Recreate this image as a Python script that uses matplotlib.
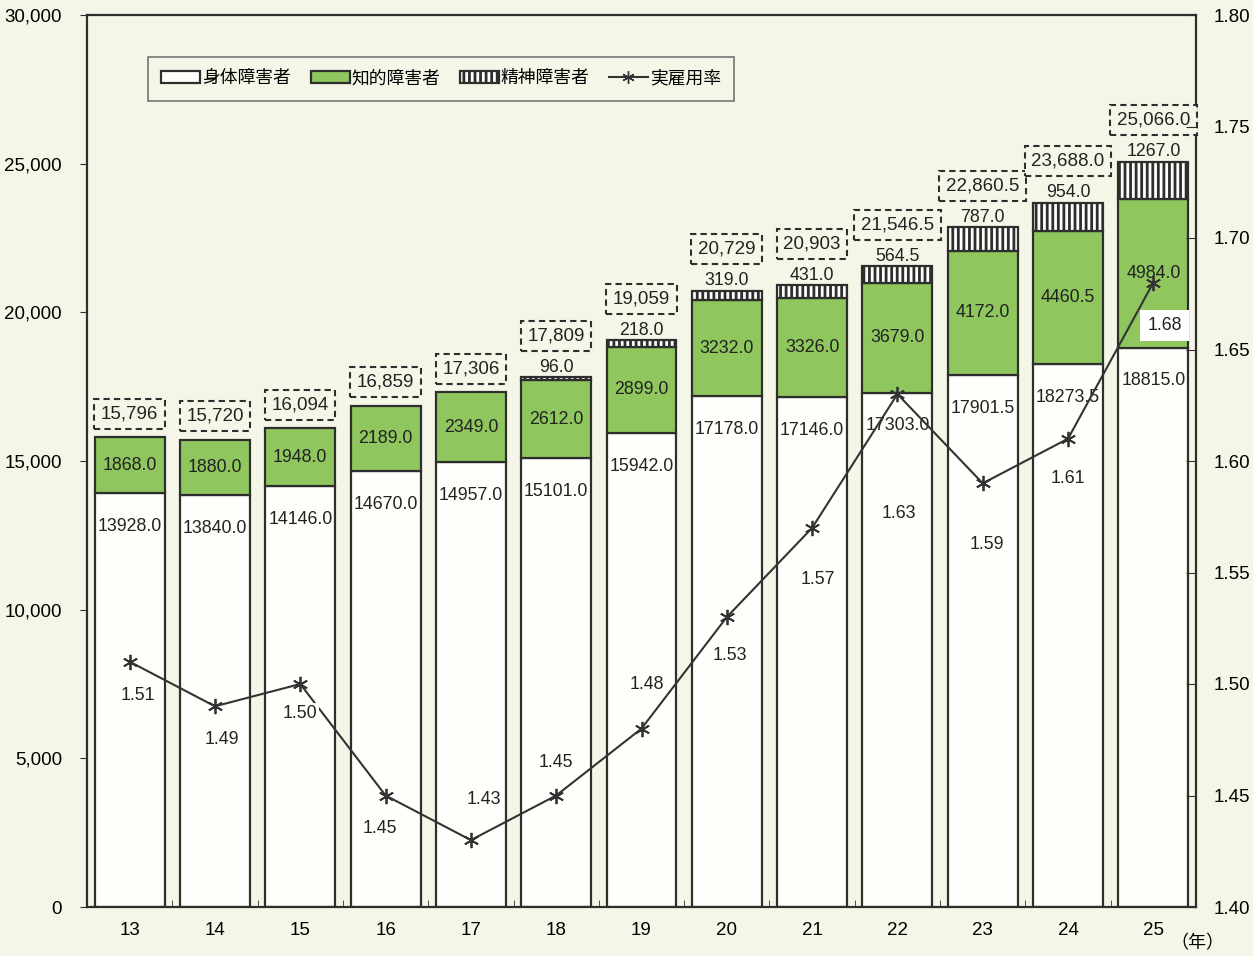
import numpy as np
import matplotlib
matplotlib.use("Agg")
import matplotlib.pyplot as plt
from matplotlib.patches import Patch
from matplotlib.lines import Line2D

plt.rcParams['font.family'] = ['Liberation Sans', 'Noto Sans CJK JP', 'DejaVu Sans']
plt.rcParams['hatch.linewidth'] = 2.0

years = ['13', '14', '15', '16', '17', '18', '19', '20', '21', '22', '23', '24', '25']
physical = [13928.0, 13840.0, 14146.0, 14670.0, 14957.0, 15101.0, 15942.0,
            17178.0, 17146.0, 17303.0, 17901.5, 18273.5, 18815.0]
intellectual = [1868.0, 1880.0, 1948.0, 2189.0, 2349.0, 2612.0, 2899.0,
                3232.0, 3326.0, 3679.0, 4172.0, 4460.5, 4984.0]
mental = [0, 0, 0, 0, 0, 96.0, 218.0, 319.0, 431.0, 564.5, 787.0, 954.0, 1267.0]
rate = [1.51, 1.49, 1.50, 1.45, 1.43, 1.45, 1.48, 1.53, 1.57, 1.63, 1.59, 1.61, 1.68]

# label offsets (points) for rate labels
rate_off = [(6, -24), (5, -24), (0, -21), (-4, -24), (9, 29), (0, 24), (4, 32),
            (2, -28), (4, -37), (1, -86), (3, -44), (0, -29), (8, -31)]

bg = '#f6f6e8'
white = '#fefefa'
green = '#8fc65e'
edge = '#2e2e2e'

fig = plt.figure(figsize=(12.53, 9.56), dpi=100, facecolor=bg)
ax = fig.add_axes([87 / 1253, 1 - 907 / 956, 1109 / 1253, 892 / 956])
ax.set_facecolor(bg)

x = np.arange(len(years))
phys = np.array(physical)
intel = np.array(intellectual)
ment = np.array(mental)
w = 0.82

ax.bar(x, phys, w, color=white, edgecolor=edge, linewidth=1.6, zorder=2)
ax.bar(x, intel, w, bottom=phys, color=green, edgecolor=edge, linewidth=1.6, zorder=2)
mm = ment > 0
ax.bar(x[mm], ment[mm], w, bottom=(phys + intel)[mm], color=white, edgecolor=edge,
       linewidth=1.6, hatch='|||', zorder=2)

tfont = dict(fontsize=12.8, color='#222222')
totals = phys + intel + ment
for i in range(len(x)):
    ax.annotate(f'{phys[i]:.1f}', (x[i], phys[i]), xytext=(0, -24),
                textcoords='offset points', ha='center', va='center', zorder=4, **tfont)
    ax.text(x[i], phys[i] + intel[i] / 2, f'{intel[i]:.1f}', ha='center', va='center',
            zorder=4, **tfont)
    if ment[i] > 0:
        ax.annotate(f'{ment[i]:.1f}', (x[i], totals[i]), xytext=(0, 7),
                    textcoords='offset points', ha='center', va='center', zorder=4, **tfont)
        dy = 30
    else:
        dy = 17
    lab = f'{totals[i]:,.1f}' if i >= 9 else f'{totals[i]:,.0f}'
    ax.annotate(lab, (x[i], totals[i]), xytext=(0, dy), textcoords='offset points',
                ha='center', va='center', zorder=4, fontsize=13.5, color='#222222',
                bbox=dict(boxstyle='square,pad=0.35', facecolor=bg, edgecolor=edge,
                          linestyle=(0, (3, 2)), linewidth=1.5))

ax.set_xlim(-0.5, len(x) - 0.5)
ax.set_ylim(0, 30000)
ax.set_yticks(np.arange(0, 30001, 5000))
ax.set_yticklabels([f'{v:,}' for v in range(0, 30001, 5000)], fontsize=13.5)
ax.set_xticks(x)
ax.set_xticklabels(years, fontsize=13.5)
ax.set_xticks(x[:-1] + 0.5, minor=True)
ax.tick_params(axis='x', which='major', length=0, pad=11)
ax.tick_params(axis='x', which='minor', direction='in', length=5, color=edge)
ax.tick_params(axis='y', direction='out', length=5, pad=13, color=edge)
for s in ax.spines.values():
    s.set_color(edge)
    s.set_linewidth(1.6)

ax2 = ax.twinx()
ax2.set_ylim(1.40, 1.80)
ax2.set_yticks(np.arange(1.40, 1.801, 0.05))
ax2.set_yticklabels([f'{v:.2f}' for v in np.arange(1.40, 1.801, 0.05)], fontsize=13.5)
ax2.tick_params(axis='y', direction='in', length=7, pad=13, color=edge)
for s in ax2.spines.values():
    s.set_visible(False)

ax2.plot(x, rate, color='#333333', linewidth=1.5, marker=(6, 2, 0), markersize=11,
         markeredgewidth=1.3, zorder=3)
for i in range(len(x)):
    fc = 'white' if i == len(x) - 1 else white
    pad = 0.4 if i == len(x) - 1 else 0.1
    ax2.annotate(f'{rate[i]:.2f}', (x[i], rate[i]), xytext=rate_off[i],
                 textcoords='offset points', ha='center', va='center', zorder=5,
                 bbox=dict(boxstyle=f'square,pad={pad}', facecolor=fc, edgecolor='none'),
                 **tfont)

handles = [Patch(facecolor=white, edgecolor=edge, linewidth=1.6),
           Patch(facecolor=green, edgecolor=edge, linewidth=1.6),
           Patch(facecolor=white, edgecolor=edge, linewidth=1.6, hatch='|||'),
           Line2D([], [], color='#333333', linewidth=1.5, marker=(6, 2, 0), markersize=9)]
leg = ax2.legend(handles, ['身体障害者', '知的障害者', '精神障害者', '実雇用率'],
                 loc='upper left', bbox_to_anchor=(0.055, 0.953), ncol=4,
                 fontsize=12.8, frameon=True, fancybox=False, handlelength=2.2,
                 handleheight=0.6, handletextpad=0.1, columnspacing=1.1,
                 borderpad=0.75, borderaxespad=0)
leg.get_frame().set_edgecolor('#555555')
leg.get_frame().set_facecolor(bg)
leg.get_frame().set_linewidth(1.2)
leg.set_zorder(6)

fig.text(1197 / 1253, 1 - 943 / 956, '（年）', ha='center', va='center', fontsize=13,
         family=['Noto Sans CJK JP'])

fig.savefig('out.png', dpi=100, facecolor=bg)
